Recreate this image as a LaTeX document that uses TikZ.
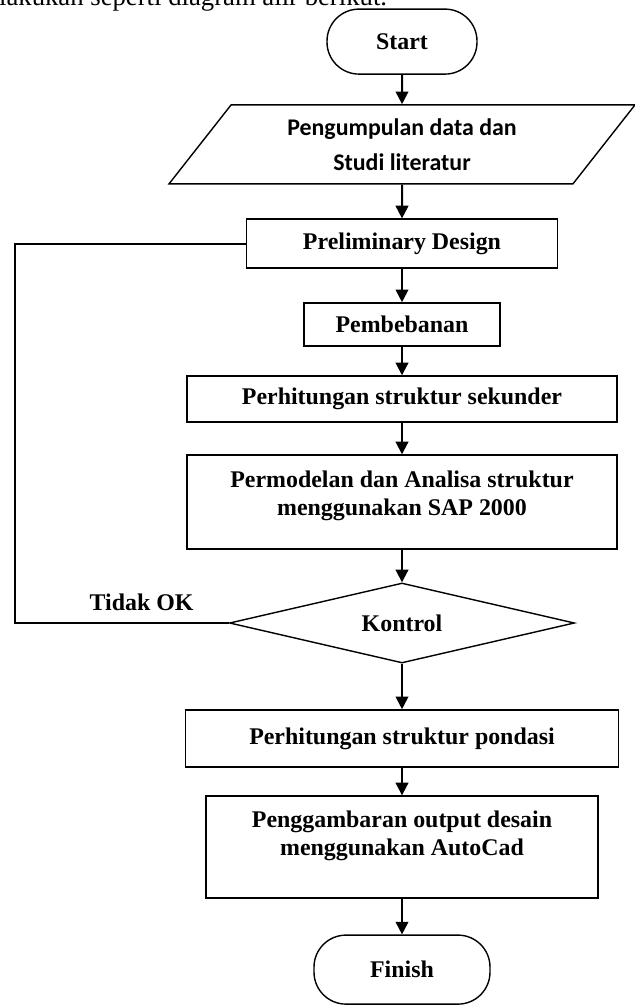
\documentclass[tikz,border=0pt]{standalone}
\usepackage{fontspec}
\setmainfont{Liberation Serif}
\newfontfamily\calibri{Carlito}
\usetikzlibrary{arrows.meta,shapes.geometric}

\begin{document}
\begin{tikzpicture}[
    every node/.style={font=\fontsize{17}{20}\selectfont\bfseries},
    proc/.style={draw, line width=1pt, rectangle, inner sep=0pt},
    term/.style={draw, line width=1pt, rectangle, rounded corners=0.8cm, inner sep=0pt},
    io/.style={draw, line width=1pt, trapezium, trapezium left angle=40, trapezium right angle=140,
        trapezium stretches body, minimum width=11.65cm, minimum height=1.975cm, inner sep=0pt, align=center},
    decision/.style={draw, line width=1pt, diamond, aspect=4.3, minimum width=8.625cm, minimum height=2cm, inner sep=0pt},
    flow/.style={line width=1.4pt, -{Triangle[length=9pt,width=9pt]}},
    back/.style={line width=1.4pt}
]
    \useasboundingbox (0,0) rectangle (15.85,-25.125);
    % kalimat pengantar (terpotong di tepi)
    \node[anchor=base east, font=\fontsize{19}{22}\selectfont] (intro) at (9.8,-0.15) {dilakukan seperti diagram alir berikut.};
    % mulai
    \node[term, minimum width=3.75cm, minimum height=1.625cm] (start) at (10.05,-1.04) {Start};
    % input data
    \node[io] (data) at (10.05,-3.61) {\calibri Pengumpulan data dan\\[5pt] \calibri Studi literatur};
    % proses
    \node[proc, minimum width=7.775cm, minimum height=1.225cm] (prelim) at (10.05,-6.09) {Preliminary Design};
    \node[proc, minimum width=4.9cm, minimum height=1.075cm] (load) at (10.05,-8.11) {Pembebanan};
    \node[proc, minimum width=10.75cm, minimum height=1.15cm] (sec) at (10.05,-9.975) {Perhitungan struktur sekunder};
    \node[proc, minimum width=10.75cm, minimum height=2.35cm] (model) at (10.05,-12.55) {};
    \node[align=center] (model-t) at (10.05,-12.4) {Permodelan dan Analisa struktur\\ menggunakan SAP 2000};
    % kontrol
    \node[decision] (ctrl) at (10.05,-15.575) {Kontrol};
    \node (tidakok) at (3.54,-15.05) {Tidak OK};
    \node[proc, minimum width=10.825cm, minimum height=1.425cm] (found) at (10.05,-18.46) {Perhitungan struktur pondasi};
    \node[proc, minimum width=9.8cm, minimum height=2.55cm] (cad) at (10.05,-21.175) {};
    \node[align=center] (cad-t) at (10.05,-20.9) {Penggambaran output desain\\ menggunakan AutoCad};
    % selesai
    \node[term, minimum width=4.4cm, minimum height=1.725cm] (finish) at (10.05,-24.24) {Finish};
    % panah alur
    \foreach \a/\b in {start/data, data/prelim, prelim/load, load/sec, sec/model, model/ctrl, ctrl/found, found/cad, cad/finish}
        \draw[flow] (\a) -- (\b);
    % balik ke preliminary design
    \coordinate (fb) at (0.375,-10);
    \draw[back] (ctrl.west) -| (fb) |- (prelim.west);
\end{tikzpicture}
\end{document}
